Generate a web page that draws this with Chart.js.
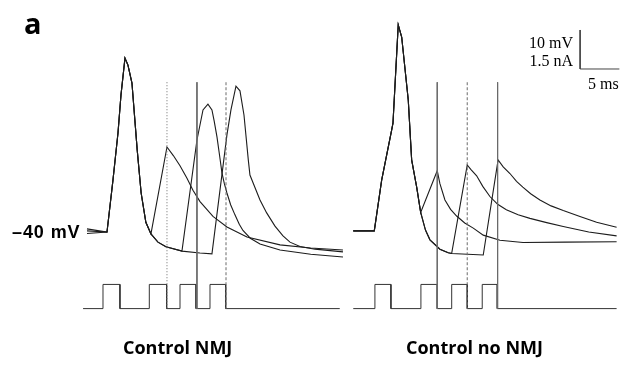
<!DOCTYPE html>
<html>
<head>
<meta charset="utf-8">
<script src="https://cdn.jsdelivr.net/npm/chart.js@4.4.1/dist/chart.umd.min.js"></script>
<style>
body { margin: 0; background: #fff; }
#wrap { position: relative; width: 628px; height: 371px; }
#fig { position: absolute; left: 0; top: 0; }
.lbl { position: absolute; white-space: nowrap; color: #000; line-height: 1; }
.panel { font: bold 18px "Open Sans"; top: 335px; }
.bar { font: 16px "Liberation Serif"; }
</style>
</head>
<body>
<div id="wrap">
  <canvas id="fig" width="628" height="371"></canvas>
  <div class="lbl" style="left:24px; top:3px; font:bold 29px 'Open Sans';">a</div>
  <div class="lbl" style="left:12px; top:222px; font:bold 18px 'Liberation Sans', Arial; letter-spacing:0.9px;">–40 mV</div>
  <div class="lbl bar" style="right:55px; top:34px;">10 mV</div>
  <div class="lbl bar" style="right:55px; top:52px;">1.5 nA</div>
  <div class="lbl bar" style="left:588px; top:75px;">5 ms</div>
  <div class="lbl panel" style="left:123px;">Control NMJ</div>
  <div class="lbl panel" style="left:406px;">Control no NMJ</div>
</div>
<script>
// sweep time in ms from the start of each recording, potential in mV
var restNMJ = [-39.2, -39.7, -40.4];
var spikeNMJ = [[2.55, -40], [3.31, -26.7], [3.95, -14.6], [4.33, -4.9], [4.84, 4.6], [5.22, 2.8],
                [5.73, -1.8], [6.4, -19], [6.9, -30], [7.5, -37.5], [8.15, -40.5]];
var decayNMJ = [[9.04, -42.6], [10.06, -43.8], [12.10, -44.9]];
var tailNMJ1 = [[10.19, -18.2], [11.0, -20.4], [11.85, -23.0], [12.74, -26.2], [13.5, -29.3],
                [14.4, -32.2], [16.05, -36.0], [17.83, -38.7], [20.38, -41.3], [24.59, -43.3],
                [28.5, -44.1], [32.61, -44.6]];
var tailNMJ2 = [[14.01, -16.4], [14.78, -8.7], [15.41, -7.2], [15.92, -8.7], [16.2, -11.5],
                [16.56, -15.6], [16.9, -20.5], [17.2, -24.9], [17.5, -27.6], [17.83, -30.0],
                [18.3, -33.0], [18.85, -35.6], [19.4, -38.0], [19.87, -39.6], [20.8, -41.6],
                [22.04, -43.1], [24.59, -44.6], [28.5, -45.7], [32.61, -46.4]];
var tailNMJ3 = [[14.39, -45.4], [15.92, -45.6], [17.83, -15.1], [18.34, -8.7], [18.98, -2.6],
                [19.49, -3.8], [20.0, -10.0], [20.55, -21.5], [20.76, -25.4], [21.18, -27.5],
                [22.04, -31.8], [22.89, -35.1], [23.95, -38.5], [24.97, -41.0], [25.86, -42.6],
                [27.13, -43.7], [29.04, -44.4], [32.61, -45.1]];

var restNo = -39.7;
var spikeNo = [[2.68, -39.7], [3.62, -26.7], [4.89, -13.9], [5.06, -12.1], [5.73, 13.1], [6.17, 10.0],
               [7.01, -6.2], [7.44, -21.5], [8.08, -28.5], [8.59, -35.0]];
var decayNo = [[9.2, -39.5], [9.77, -42.0], [11.04, -44.4], [12.10, -45.3], [12.54, -45.5]];
var tailNo1 = [[10.70, -24.3], [11.04, -27.6], [11.68, -31.8], [12.4, -34.2], [13.17, -35.9],
               [14.2, -37.7], [15.29, -39.0], [16.56, -40.8], [18.69, -42.1], [21.62, -42.7],
               [27, -42.6], [33.55, -42.5]];
var tailNo2 = [[14.52, -22.8], [15.0, -24.0], [15.72, -25.6], [16.5, -28.3], [17.41, -30.9],
               [18.4, -32.9], [19.5, -34.3], [21.0, -35.6], [22.51, -36.5], [24.64, -37.6],
               [26.75, -38.6], [30, -40.0], [33.55, -41.0]];
var tailNo3 = [[16.56, -45.9], [18.45, -21.5], [19.1, -23.3], [19.96, -25.0], [20.8, -27.0],
               [21.6, -28.5], [22.6, -30.2], [23.78, -31.8], [25.2, -33.3], [26.75, -34.5],
               [28.88, -36.0], [31, -37.5], [33.55, -38.8]];

// injected current pulses (start, end in ms), amplitude in nA
var pulsesNMJ = [[2.04, 4.20], [7.94, 10.15], [11.85, 13.89], [15.67, 17.67]];
var pulsesNo = [[2.76, 4.80], [8.62, 10.70], [12.54, 14.52], [16.43, 18.34]];
var pulseAmp = 0.93;
var currentSpanNMJ = [-0.5, 32.2];
var currentSpanNo = [0, 33.55];

// stimulus artifacts (ms) and how they are dashed
var artNMJ = [10.19, 14.01, 17.71];
var artNo = [10.70, 14.52, 18.39];
var artDashNMJ = [[1, 2], [], [3, 2]];
var artDashNo = [[], [3, 2], []];
var artTop = -1.6, artBottom = -59.7;

// scale bar
var barMs = 5, barMV = 10;
var barCorner = [28.9, 1.8];

var originNMJ = 11.08, originNo = 45.0;

function pts(arr, t0) {
  return arr.map(function (p) { return { x: p[0] + t0, y: p[1] }; });
}
function sweep(rest, parts, t0) {
  return pts([[0, rest]].concat(parts), t0);
}
function steps(pulses, span, amp, t0) {
  var out = [[span[0], 0]];
  pulses.forEach(function (p) {
    out.push([p[0], 0], [p[0], amp], [p[1], amp], [p[1], 0]);
  });
  out.push([span[1], 0]);
  return pts(out, t0);
}

var datasets = [];
function addArtifacts(times, dashes, t0) {
  times.forEach(function (t, i) {
    datasets.push({ data: pts([[t, artTop], [t, artBottom]], t0), borderColor: '#6a6a6a',
                    borderWidth: 1, borderDash: dashes[i], yAxisID: 'y' });
  });
}
addArtifacts(artNMJ, artDashNMJ, originNMJ);
addArtifacts(artNo, artDashNo, originNo);

datasets.push({ data: steps(pulsesNMJ, currentSpanNMJ, pulseAmp, originNMJ), borderColor: '#333',
                borderWidth: 1, yAxisID: 'yI' });
datasets.push({ data: steps(pulsesNo, currentSpanNo, pulseAmp, originNo), borderColor: '#333',
                borderWidth: 1, yAxisID: 'yI' });

function addTrace(data) {
  datasets.push({ data: data, borderColor: '#1c1c1c', borderWidth: 1.1, yAxisID: 'y' });
}
addTrace(sweep(restNMJ[0], spikeNMJ.concat(tailNMJ1), originNMJ));
addTrace(sweep(restNMJ[1], spikeNMJ.concat(decayNMJ, tailNMJ2), originNMJ));
addTrace(sweep(restNMJ[2], spikeNMJ.concat(decayNMJ, tailNMJ3), originNMJ));
addTrace(sweep(restNo, spikeNo.concat(tailNo1), originNo));
addTrace(sweep(restNo, spikeNo.concat(decayNo, tailNo2), originNo));
addTrace(sweep(restNo, spikeNo.concat(decayNo, tailNo3), originNo));

datasets.push({ data: pts([[barCorner[0], barCorner[1] + barMV], barCorner,
                           [barCorner[0] + barMs, barCorner[1]]], originNo),
                borderColor: '#444', borderWidth: 1, yAxisID: 'y' });

var ctx = document.getElementById('fig').getContext('2d');
new Chart(ctx, {
  type: 'line',
  data: { datasets: datasets },
  options: {
    responsive: false,
    animation: false,
    events: [],
    layout: { padding: 0 },
    elements: { point: { radius: 0 }, line: { tension: 0 } },
    plugins: { legend: { display: false }, tooltip: { enabled: false } },
    scales: {
      x: { type: 'linear', min: 0, max: 80, display: false },
      y: { min: -75.64, max: 19.49, display: false },
      yI: { min: -2.40, max: 11.87, display: false }
    }
  }
});
</script>
</body>
</html>
